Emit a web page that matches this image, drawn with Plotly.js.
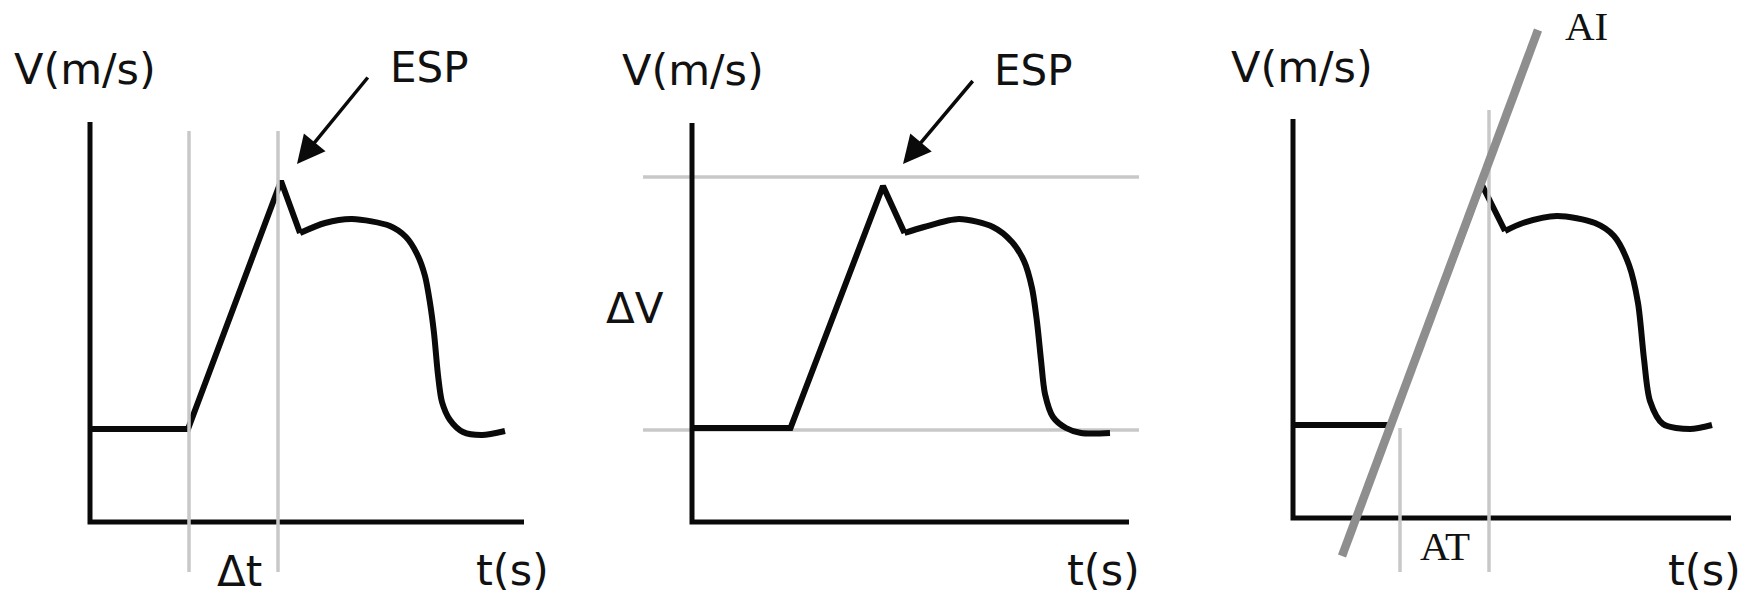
<!DOCTYPE html>
<html>
<head>
<meta charset="utf-8">
<script src="https://cdn.plot.ly/plotly-3.0.1.min.js"></script>
<style>html,body{margin:0;padding:0;background:#fff;}#chart{width:1753px;height:595px;}</style>
</head>
<body>
<div id="chart"></div>
<script>
// ---- Data (schematic units: t and V measured from each panel's origin) ----
// Panel 1: Δt method
const p1AxisT = [0, 0, 43.4];
const p1AxisV = [40.0, 0, 0];
const p1RiseT = [0, 9.8, 19.1, 21.0];
const p1RiseV = [9.3, 9.3, 34.1, 28.9];
const p1PlatT = [21.0, 23.5, 26.2, 30.0, 31.6, 32.7, 33.5, 34.0, 34.4, 34.8, 35.2, 36.0, 37.3, 39.2, 41.5];
const p1PlatV = [28.9, 29.9, 30.3, 29.6, 28.5, 26.8, 24.6, 21.9, 18.9, 14.7, 12.0, 10.2, 9.0, 8.7, 9.1];
const p1GuideT = [9.9, 9.9, null, 18.8, 18.8];
const p1GuideV = [39.1, -5.0, null, 39.1, -5.0];

// Panel 2: ΔV method
const p2AxisT = [0, 0, 43.7];
const p2AxisV = [39.9, 0, 0];
const p2RiseT = [0, 9.85, 19.1, 21.25];
const p2RiseV = [9.4, 9.4, 33.6, 28.9];
const p2PlatT = [21.25, 23.2, 26.7, 30.1, 32.0, 33.2, 34.0, 34.5, 34.9, 35.3, 36.1, 37.4, 38.9, 41.8];
const p2PlatV = [28.9, 29.5, 30.3, 29.5, 28.0, 26.1, 23.4, 20.0, 16.2, 12.8, 10.5, 9.4, 8.9, 8.9];
const p2GuideT = [-4.9, 44.7, null, -4.9, 44.7];
const p2GuideV = [34.5, 34.5, null, 9.2, 9.2];

// Panel 3: AI / AT method
const p3AxisT = [0, 0, 43.8];
const p3AxisV = [39.9, 0, 0];
const p3RiseT = [0, 9.8, 18.85, 21.2];
const p3RiseV = [9.3, 9.3, 33.4, 28.7];
const p3PlatT = [21.2, 23.0, 26.4, 30.2, 32.1, 33.6, 34.5, 35.1, 35.7, 37.0, 39.7, 41.9];
const p3PlatV = [28.7, 29.5, 30.2, 29.5, 28.2, 25.3, 21.5, 15.9, 11.7, 9.4, 8.9, 9.3];
const p3SlopeT = [4.9, 24.5];
const p3SlopeV = [-3.8, 48.8];
const p3GuideT = [19.6, 19.6, null, 10.7, 10.7];
const p3GuideV = [40.8, -5.4, null, 9.0, -5.4];

// ---- Layout constants ----
const W = 1753, H = 595, PX = 10;           // px per schematic unit
const origins = [[90, 522], [692, 522], [1293, 518]];
const BLACK = '#0a0a0a', LIGHT = '#c8c8c8', MID = '#8e8e8e';
const SANS = 'DejaVu Sans, Verdana, sans-serif';
const SERIF = 'Liberation Serif, Times New Roman, serif';

function ax(i) { return i === 0 ? '' : String(i + 1); }
function line(t, v, i, color, width, shape) {
  return {type: 'scatter', mode: 'lines', x: t, y: v, xaxis: 'x' + ax(i), yaxis: 'y' + ax(i),
          line: {color: color, width: width, shape: shape || 'linear', smoothing: 0.8},
          connectgaps: false, hoverinfo: 'skip', showlegend: false};
}

const traces = [
  line(p1AxisT, p1AxisV, 0, BLACK, 5),
  line(p1RiseT, p1RiseV, 0, BLACK, 6),
  line(p1PlatT, p1PlatV, 0, BLACK, 6, 'spline'),
  line(p1GuideT, p1GuideV, 0, LIGHT, 3.5),

  line(p2GuideT, p2GuideV, 1, LIGHT, 3.5),
  line(p2AxisT, p2AxisV, 1, BLACK, 5),
  line(p2RiseT, p2RiseV, 1, BLACK, 6),
  line(p2PlatT, p2PlatV, 1, BLACK, 6, 'spline'),

  line(p3AxisT, p3AxisV, 2, BLACK, 5),
  line(p3RiseT, p3RiseV, 2, BLACK, 6),
  line(p3PlatT, p3PlatV, 2, BLACK, 6, 'spline'),
  line(p3GuideT, p3GuideV, 2, LIGHT, 3.5),
  line(p3SlopeT, p3SlopeV, 2, MID, 8.5)
];

const layout = {
  width: W, height: H, autosize: false,
  margin: {l: 0, r: 0, t: 0, b: 0, pad: 0},
  paper_bgcolor: '#ffffff', plot_bgcolor: 'rgba(0,0,0,0)',
  showlegend: false, annotations: []
};
origins.forEach(function (o, i) {
  const k = ax(i);
  layout['xaxis' + k] = {domain: [0, 1], range: [-o[0] / PX, (W - o[0]) / PX], visible: false,
                         anchor: 'y' + k, fixedrange: true};
  layout['yaxis' + k] = {domain: [0, 1], range: [-(H - o[1]) / PX, o[1] / PX], visible: false,
                         anchor: 'x' + k, fixedrange: true};
});

function label(i, x, y, text, font, size) {
  return {xref: 'x' + ax(i), yref: 'y' + ax(i), x: x, y: y, text: text, showarrow: false,
          xanchor: 'center', yanchor: 'middle',
          font: {family: font, size: size, color: '#111111'}};
}
function arrow(i, x, y, tx, ty) {
  return {xref: 'x' + ax(i), yref: 'y' + ax(i), axref: 'x' + ax(i), ayref: 'y' + ax(i),
          x: x, y: y, ax: tx, ay: ty, text: '', showarrow: true,
          arrowhead: 2, arrowsize: 1.6, arrowwidth: 3.5, arrowcolor: BLACK};
}
layout.annotations.push(
  label(0, -0.5, 45.3, 'V(m/s)', SANS, 43),
  label(0, 33.9, 45.5, 'ESP', SANS, 42),
  label(0, 14.9, -4.9, '\u0394t', SANS, 42),
  label(0, 42.2, -4.8, 't(s)', SANS, 43),
  arrow(0, 20.7, 35.8, 27.9, 44.6),

  label(1, 0.1, 45.2, 'V(m/s)', SANS, 43),
  label(1, 34.1, 45.2, 'ESP', SANS, 42),
  label(1, -5.75, 21.4, '\u0394V', SANS, 42),
  label(1, 41.1, -4.8, 't(s)', SANS, 43),
  arrow(1, 21.1, 35.8, 28.2, 44.25),

  label(2, 0.9, 45.1, 'V(m/s)', SANS, 43),
  label(2, 29.3, 49.25, 'AI', SERIF, 41),
  label(2, 15.15, -2.8, 'AT', SERIF, 41),
  label(2, 41.1, -5.2, 't(s)', SANS, 43)
);

Plotly.newPlot('chart', traces, layout, {displayModeBar: false, staticPlot: true});
</script>
</body>
</html>
